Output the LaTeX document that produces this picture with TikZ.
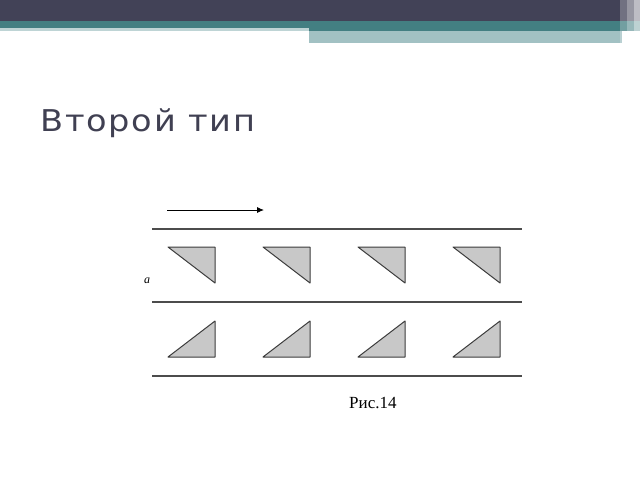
\documentclass[tikz,border=0pt]{standalone}
\usepackage{fontspec}
\setmainfont{Liberation Serif}
\newfontfamily\titlefont[FakeStretch=1.12, LetterSpace=6]{DejaVu Sans}
\usetikzlibrary{arrows.meta}
\definecolor{barDark}{HTML}{424257}
\definecolor{barTeal}{HTML}{437F82}
\definecolor{barLight}{HTML}{A2C1C3}
\definecolor{titleGray}{HTML}{404052}
\definecolor{wedgeFill}{HTML}{C8C8C8}
\definecolor{wedgeLine}{HTML}{3C3C3C}

\begin{document}
\begin{tikzpicture}[x=1pt, y=-1pt,
        wedge/.style={fill=wedgeFill, draw=wedgeLine, line width=1pt, line join=round},
        wall/.style={draw=black!70, line width=1.1pt},
        flow/.style={draw=black, line width=0.9pt, -{Latex[length=7pt, width=6pt]}},
        every node/.style={inner sep=0pt}]
        \useasboundingbox (0,0) rectangle (640,480);
        % header bars
        \fill[barDark] (0,0) rectangle (640,21);
        \fill[barTeal] (0,21) rectangle (640,28);
        \fill[barTeal] (309,28) rectangle (640,31);
        \fill[barLight!70] (0,28) rectangle (309,31);
        \fill[barLight] (309,31) rectangle (622,43);
        \fill[white, opacity=0.25] (620,0) rectangle (627,43);
        \fill[white, opacity=0.45] (627,0) rectangle (634,43);
        \fill[white, opacity=0.65] (634,0) rectangle (640,43);

        \node (title) [anchor=base west, text=titleGray, font=\titlefont\fontsize{30}{36}\selectfont] at (40,131) {Второй тип};

        % direction of motion
        \coordinate (flowstart) at (167,210);
        \coordinate (flowend) at (264,210);
        \draw[flow] (flowstart) -- (flowend);

        % channel walls
        \draw[wall] (152,229) -- (522,229);
        \draw[wall] (152,302) -- (522,302);
        \draw[wall] (152,376) -- (522,376);

        % upper row
        \draw[wedge] (168,247) -- (215,247) -- (215,283) -- cycle;
        \draw[wedge] (263,247) -- (310,247) -- (310,283) -- cycle;
        \draw[wedge] (358,247) -- (405,247) -- (405,283) -- cycle;
        \draw[wedge] (453,247) -- (500,247) -- (500,283) -- cycle;

        % lower row
        \draw[wedge] (168,357) -- (215,357) -- (215,321) -- cycle;
        \draw[wedge] (263,357) -- (310,357) -- (310,321) -- cycle;
        \draw[wedge] (358,357) -- (405,357) -- (405,321) -- cycle;
        \draw[wedge] (453,357) -- (500,357) -- (500,321) -- cycle;

        \node (gap) [anchor=base west, font=\itshape\fontsize{12}{14}\selectfont] at (144,283) {a};
        \node (caption) [anchor=base west, font=\fontsize{17}{20}\selectfont] at (349,408) {Рис.14};
    \end{tikzpicture}
\end{document}
